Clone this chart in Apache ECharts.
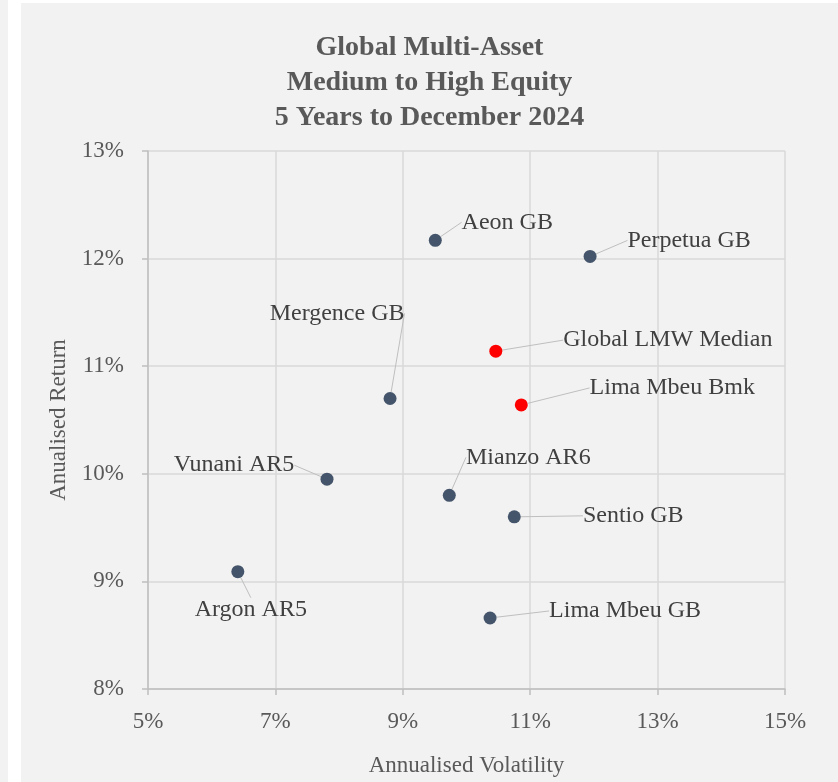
<!DOCTYPE html>
<html>
<head>
<meta charset="utf-8">
<script src="https://cdn.jsdelivr.net/npm/echarts@6/dist/echarts.min.js"></script>
<style>
  html, body { margin: 0; padding: 0; background: #ffffff; width: 838px; height: 782px; overflow: hidden; }
  #strip { position: absolute; left: 0; top: 0; width: 8px; height: 782px; background: #f2f2f2; }
  #chart { position: absolute; left: 21px; top: 3px; width: 817px; height: 779px; }
</style>
</head>
<body>
<div id="strip"></div>
<div id="chart"></div>
<script>
// fund names, annualised volatility (%) and annualised return (%)
var funds = ['Aeon GB', 'Perpetua GB', 'Mergence GB', 'Vunani AR5', 'Mianzo AR6',
             'Sentio GB', 'Argon AR5', 'Lima Mbeu GB'];
var fundVol = [9.51, 11.94, 8.80, 7.81, 9.73, 10.75, 6.41, 10.37];
var fundRet = [12.17, 12.02, 10.70, 9.95, 9.80, 9.60, 9.09, 8.66];

var benchmarks = ['Global LMW Median', 'Lima Mbeu Bmk'];
var benchVol = [10.46, 10.86];
var benchRet = [11.14, 10.64];

var xTicks = [5, 7, 9, 11, 13, 15];
var yTicks = [8, 9, 10, 11, 12, 13];

// where each label sits relative to its point (px)
var labelShift = {
    'Aeon GB': [72, -18],
    'Perpetua GB': [99, -16],
    'Mergence GB': [-53, -85],
    'Vunani AR5': [-93, -14],
    'Mianzo AR6': [79, -38],
    'Sentio GB': [119, -1],
    'Argon AR5': [13, 38],
    'Lima Mbeu GB': [135, -7],
    'Global LMW Median': [172, -11],
    'Lima Mbeu Bmk': [151, -17]
};

var FONT = '"Liberation Serif", serif';

function makeData(names, xs, ys) {
    return names.map(function (n, i) {
        return { name: n, value: [xs[i], ys[i]] };
    });
}

function shiftLabel(params) {
    var s = labelShift[params.text] || [0, 0];
    return { dx: s[0], dy: s[1] };
}

var labelOpt = {
    show: true,
    position: 'inside',
    formatter: '{b}',
    color: '#404040',
    fontFamily: FONT,
    fontSize: 24,
    padding: [0, 8]
};
var lineOpt = { show: true, smooth: false, lineStyle: { color: '#bfbfbf', width: 1 } };

var chart = echarts.init(document.getElementById('chart'));
chart.setOption({
    backgroundColor: '#f2f2f2',
    animation: false,
    title: {
        text: 'Global Multi-Asset\nMedium to High Equity\n5 Years to December 2024',
        left: 'center',
        top: 22,
        textStyle: {
            fontFamily: FONT,
            fontSize: 28,
            fontWeight: 'bold',
            color: '#595959',
            lineHeight: 35
        }
    },
    grid: { left: 127, right: 53, top: 148, bottom: 92 },
    xAxis: {
        type: 'value',
        min: 5,
        max: 15,
        interval: 2,
        name: 'Annualised Volatility',
        nameLocation: 'middle',
        nameGap: 65,
        nameTextStyle: { fontFamily: FONT, fontSize: 23, color: '#595959' },
        axisLine: { show: true, lineStyle: { color: '#bfbfbf', width: 1.5 } },
        axisTick: { show: true, length: 6, customValues: xTicks, lineStyle: { color: '#bfbfbf', width: 1.5 } },
        axisLabel: {
            customValues: xTicks,
            formatter: '{value}%',
            fontFamily: FONT, fontSize: 23, color: '#595959', margin: 21
        },
        splitLine: { show: true, lineStyle: { color: '#d9d9d9', width: 1.5 } }
    },
    yAxis: {
        type: 'value',
        min: 8,
        max: 13,
        interval: 1,
        name: 'Anualised Return',
        nameLocation: 'middle',
        nameGap: 74,
        nameTextStyle: { fontFamily: FONT, fontSize: 23, color: '#595959' },
        axisLine: { show: true, lineStyle: { color: '#bfbfbf', width: 1.5 } },
        axisTick: { show: true, length: 6, customValues: yTicks, lineStyle: { color: '#bfbfbf', width: 1.5 } },
        axisLabel: {
            customValues: yTicks,
            formatter: '{value}%',
            fontFamily: FONT, fontSize: 23, color: '#595959', margin: 24
        },
        splitLine: { show: true, lineStyle: { color: '#d9d9d9', width: 1.5 } }
    },
    series: [
        {
            type: 'scatter',
            name: 'Funds',
            symbolSize: 13,
            itemStyle: { color: '#44546a', opacity: 1 },
            label: labelOpt,
            labelLine: lineOpt,
            labelLayout: shiftLabel,
            data: makeData(funds, fundVol, fundRet)
        },
        {
            type: 'scatter',
            name: 'Benchmarks',
            symbolSize: 13,
            itemStyle: { color: '#ff0000', opacity: 1 },
            label: labelOpt,
            labelLine: lineOpt,
            labelLayout: shiftLabel,
            data: makeData(benchmarks, benchVol, benchRet)
        }
    ]
});
</script>
</body>
</html>
